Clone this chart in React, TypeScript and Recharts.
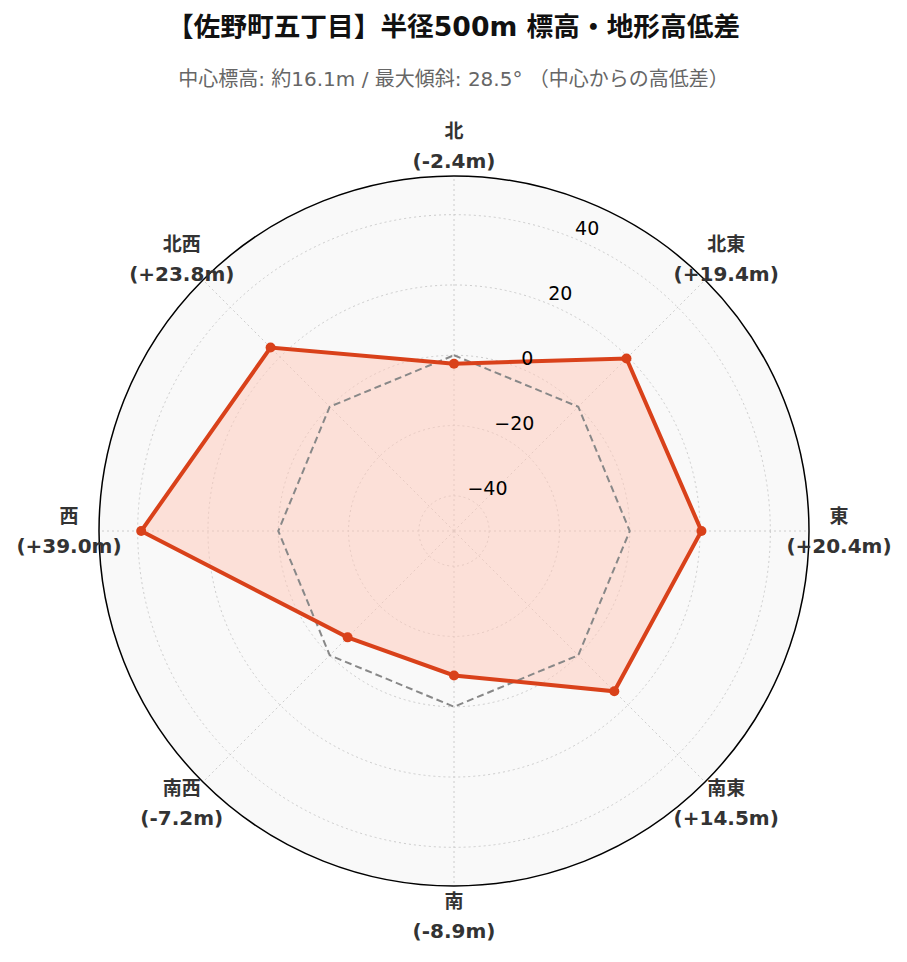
import React from "react";
import {
  RadarChart,
  Radar,
  PolarGrid,
  PolarAngleAxis,
  PolarRadiusAxis,
  Customized,
} from "recharts";

const directions = ["北", "北東", "東", "南東", "南", "南西", "西", "北西"];
const elevationDiff = [-2.4, 19.4, 20.4, 14.5, -8.9, -7.2, 39.0, 23.8];
const baseline = [0, 0, 0, 0, 0, 0, 0, 0];
const radiusTicks = [-40, -20, 0, 20, 40];
const radiusDomain = [-50, 50.5];

const data = directions.map((dir, i) => ({
  dir,
  diff: elevationDiff[i],
  base: baseline[i],
}));

const W = 907;
const H = 962;
const CX = 454;
const CY = 531;
const R = 355;
const LABEL_R = 385;
const MAIN = "#d9411a";
const LABEL_FONT = "'DejaVu Sans', 'Noto Sans CJK JP', sans-serif";

function fmt(v: number) {
  return `(${v >= 0 ? "+" : ""}${v.toFixed(1)}m)`;
}

function AngleTick(props: any) {
  const { payload } = props;
  const deg = payload.coordinate;
  const rad = (deg * Math.PI) / 180;
  const x = CX + LABEL_R * Math.cos(rad);
  const y = CY - LABEL_R * Math.sin(rad);
  const idx = directions.indexOf(payload.value);
  return (
    <g>
      <text
        x={x}
        y={y - 15}
        textAnchor="middle"
        dominantBaseline="central"
        fontFamily={LABEL_FONT}
        fontWeight="bold"
        fontSize={19}
        fill="#333333"
      >
        {payload.value}
      </text>
      <text
        x={x}
        y={y + 15}
        textAnchor="middle"
        dominantBaseline="central"
        fontFamily={LABEL_FONT}
        fontWeight="bold"
        fontSize={20}
        fill="#333333"
      >
        {fmt(elevationDiff[idx])}
      </text>
    </g>
  );
}

function RadiusTick(props: any) {
  const { x, y, payload } = props;
  const v = payload.value;
  const label = v < 0 ? `\u2212${Math.abs(v)}` : `${v}`;
  return (
    <text
      x={x}
      y={y - 4}
      textAnchor="start"
      fontFamily={LABEL_FONT}
      fontSize={19}
      fill="#000000"
    >
      {label}
    </text>
  );
}

function OuterRing() {
  return <circle cx={CX} cy={CY} r={R} fill="none" stroke="#000000" strokeWidth={1.5} />;
}

export default function App() {
  return (
    <div style={{ position: "absolute", left: 0, top: 0, width: W, height: H, background: "#fff" }}>
      <div
        style={{
          position: "absolute",
          top: 5,
          width: W,
          textAlign: "center",
          fontFamily: LABEL_FONT,
          fontWeight: "bold",
          fontSize: 26.7,
          color: "#111",
        }}
      >
        【佐野町五丁目】半径500m 標高・地形高低差
      </div>
      <div
        style={{
          position: "absolute",
          top: 63,
          width: W,
          textAlign: "center",
          fontFamily: LABEL_FONT,
          fontSize: 20,
          color: "#666",
        }}
      >
        中心標高: 約16.1m / 最大傾斜: 28.5° （中心からの高低差）
      </div>
      <div
        style={{
          position: "absolute",
          left: CX - R,
          top: CY - R,
          width: 2 * R,
          height: 2 * R,
          borderRadius: "50%",
          background: "#f9f9f9",
        }}
      />
      <div style={{ position: "absolute", left: 0, top: 0 }}>
        <RadarChart
          width={W}
          height={H}
          data={data}
          cx={CX}
          cy={CY}
          outerRadius={R}
          innerRadius={0}
          startAngle={90}
          endAngle={-270}
          margin={{ top: 0, right: 0, bottom: 0, left: 0 }}
        >
          <Radar
            dataKey="diff"
            stroke="none"
            fill="#ffc8b8"
            fillOpacity={0.5}
            isAnimationActive={false}
          />
          <PolarGrid
            gridType="circle"
            stroke="#cccccc"
            strokeDasharray="2 3"
            strokeWidth={1}
          />
          <PolarAngleAxis dataKey="dir" tick={<AngleTick />} tickLine={false} axisLine={false} />
          <PolarRadiusAxis
            angle={67.5}
            domain={radiusDomain}
            ticks={radiusTicks}
            tick={<RadiusTick />}
            axisLine={false}
            tickLine={false}
            allowDataOverflow
          />
          <Radar
            dataKey="base"
            stroke="#888888"
            strokeWidth={2}
            strokeDasharray="7 4"
            fill="none"
            fillOpacity={0}
            dot={false}
            isAnimationActive={false}
          />
          <Radar
            dataKey="diff"
            stroke={MAIN}
            strokeWidth={4}
            fill="none"
            fillOpacity={0}
            dot={{ r: 5, fill: MAIN, stroke: MAIN, strokeWidth: 0, fillOpacity: 1 }}
            isAnimationActive={false}
          />
          <Customized component={OuterRing} />
        </RadarChart>
      </div>
    </div>
  );
}
